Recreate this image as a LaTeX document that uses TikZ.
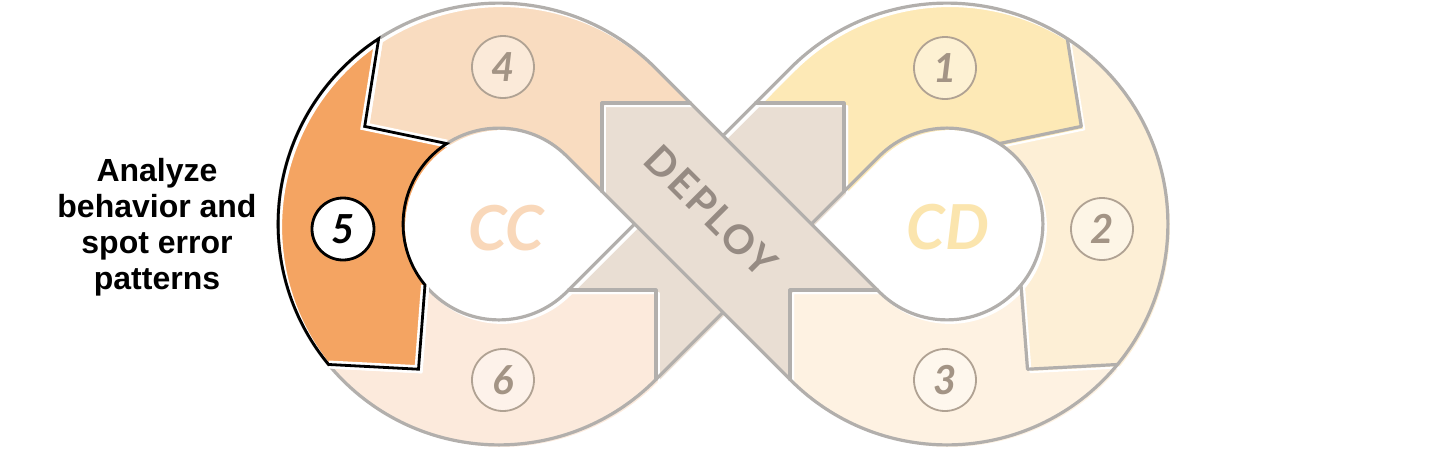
\documentclass[tikz,border=0pt]{standalone}
\usepackage{fontspec}
\newfontfamily\hand{Lato}
\newfontfamily\lblfont{Liberation Sans}
\definecolor{segfour}{RGB}{249,220,192}
\definecolor{segfive}{RGB}{244,164,98}
\definecolor{segsix}{RGB}{252,234,220}
\definecolor{segone}{RGB}{253,233,182}
\definecolor{segtwo}{RGB}{253,239,214}
\definecolor{segthree}{RGB}{254,242,226}
\definecolor{grayfill}{RGB}{233,222,211}
\definecolor{outc}{RGB}{178,175,172}
\definecolor{numline}{RGB}{176,162,147}
\definecolor{numtext}{RGB}{163,148,133}
\definecolor{deptext}{RGB}{150,139,131}
\definecolor{cccol}{RGB}{249,216,186}
\definecolor{cdcol}{RGB}{251,229,174}
\begin{document}
\begin{tikzpicture}[x=1pt,y=1pt,
  segfill/.style={fill=#1, draw=white, line width=2, line join=round, shift={(3,-3)}},
  outl/.style={draw=outc, line width=3.2, line join=round, line cap=round},
  numnode/.style={circle, draw=numline, line width=1.8, minimum size=62, inner sep=0pt,
    fill=white, fill opacity=0.4, text opacity=1, text=numtext,
    font=\hand\bfseries\itshape\fontsize{40}{40}\selectfont}]
\useasboundingbox[fill=white] (-723,-235) rectangle (733,224);

% ---- segment fills (slightly offset, sketch style)
% 4
\path[segfill=segfour] (-344.3,185.3) arc[start angle=123,end angle=45,radius=220.9]
  -- (-32.6,121) -- (-121,121) -- (-121,32.6) -- (-156.2,67.8)
  arc[start angle=45,end angle=123,radius=95.9] -- (-358.3,97.6) -- cycle;
% 6
\path[segfill=segsix] (-394.4,-140.5) arc[start angle=219.5,end angle=315,radius=220.9]
  -- (-67,-155.4) -- (-67,-66) -- (-154.4,-66) -- (-156.2,-67.8)
  arc[start angle=315,end angle=219.5,radius=95.9] -- (-304.5,-145.2) -- cycle;
% 1
\path[segfill=segone] (344.3,185.3) arc[start angle=57,end angle=135,radius=220.9]
  -- (32.6,121) -- (121,121) -- (121,32.6) -- (156.2,67.8)
  arc[start angle=135,end angle=57,radius=95.9] -- (358.3,97.6) -- cycle;
% 2
\path[segfill=segtwo] (344.3,185.3) arc[start angle=57,end angle=-39.5,radius=220.9]
  -- (304.5,-145.2) -- (298.0,-61.0)
  arc[start angle=-39.5,end angle=57,radius=95.9] -- (358.3,97.6) -- cycle;
% 3
\path[segfill=segthree] (394.4,-140.5) arc[start angle=-39.5,end angle=-135,radius=220.9]
  -- (67,-155.4) -- (67,-66) -- (154.4,-66) -- (156.2,-67.8)
  arc[start angle=-135,end angle=-39.5,radius=95.9] -- (304.5,-145.2) -- cycle;
% deploy cross
\path[segfill=grayfill] (-121,121) -- (-32.6,121) -- (0,88.4) -- (32.6,121) -- (121,121)
  -- (121,32.6) -- (88.4,0) -- (154.4,-66) -- (67,-66) -- (67,-155.4) -- (0,-88.4)
  -- (-67,-155.4) -- (-67,-66) -- (-154.4,-66) -- (-88.4,0) -- (-121,32.6) -- cycle;

% ---- outlines
\path[outl] (-67.8,156.2) arc[start angle=45,end angle=315,radius=220.9]
  -- (0,-88.4) -- (67.8,-156.2) arc[start angle=-135,end angle=135,radius=220.9]
  -- (0,88.4) -- cycle;
\path[outl] (-156.2,67.8) arc[start angle=45,end angle=315,radius=95.9] -- (-88.4,0) -- cycle;
\path[outl] (156.2,-67.8) arc[start angle=-135,end angle=135,radius=95.9] -- (88.4,0) -- cycle;
\path[outl] (0,88.4) -- (88.4,0);
\path[outl] (-88.4,0) -- (0,-88.4);
\path[outl] (-121,32.6) -- (-121,121) -- (-32.6,121);
\path[outl] (32.6,121) -- (121,121) -- (121,32.6);
\path[outl] (-154.4,-66) -- (-67,-66) -- (-67,-155.4);
\path[outl] (154.4,-66) -- (67,-66) -- (67,-155.4);
\path[outl] (344.3,185.3) -- (358.3,97.6) -- (276.2,80.4);
\path[outl] (394.4,-140.5) -- (304.5,-145.2) -- (298.0,-61.0);

% ---- highlighted segment 5
\path[segfill=segfive] (-344.3,185.3) arc[start angle=123,end angle=219.5,radius=220.9]
  -- (-304.5,-145.2) -- (-298.0,-61.0)
  arc[start angle=219.5,end angle=123,radius=95.9] -- (-358.3,97.6) -- cycle;
\path[draw=white, line width=8, line join=miter] (-344.3,185.3) -- (-358.3,97.6) -- (-276.2,80.4);
\path[draw=white, line width=8, line join=miter] (-394.4,-140.5) -- (-304.5,-145.2) -- (-298.0,-61.0);
\path[draw=black, line width=2.8, line join=miter] (-344.3,185.3) arc[start angle=123,end angle=219.5,radius=220.9]
  -- (-304.5,-145.2) -- (-298.0,-61.0)
  arc[start angle=219.5,end angle=123,radius=95.9] -- (-358.3,97.6) -- cycle;

% ---- texts
\node[text=cccol, font=\hand\bfseries\itshape\fontsize{62}{62}\selectfont] (cc) at (-217,-4) {CC};
\node[text=cdcol, font=\hand\bfseries\itshape\fontsize{62}{62}\selectfont] (cd) at (225,-3) {CD};
\node[text=deptext, rotate=-45, font=\hand\bfseries\fontsize{40}{40}\selectfont\addfontfeatures{LetterSpace=6}] (deploy) at (-12,13) {DEPLOY};

\node[numnode] (n4) at (-220,157) {4};
\node[numnode] (n6) at (-220,-156) {6};
\node[numnode] (n1) at (222,156) {1};
\node[numnode] (n2) at (379,-5) {2};
\node[numnode] (n3) at (222,-156) {3};
\node[numnode, draw=black, line width=2.8, fill opacity=1, fill=white, text=black] (n5) at (-380,-5) {5};

\node[align=center, font=\lblfont\bfseries\fontsize{32}{36}\selectfont] (label) at (-566,-3)
  {Analyze\\behavior and\\spot error\\patterns};
\end{tikzpicture}
\end{document}
